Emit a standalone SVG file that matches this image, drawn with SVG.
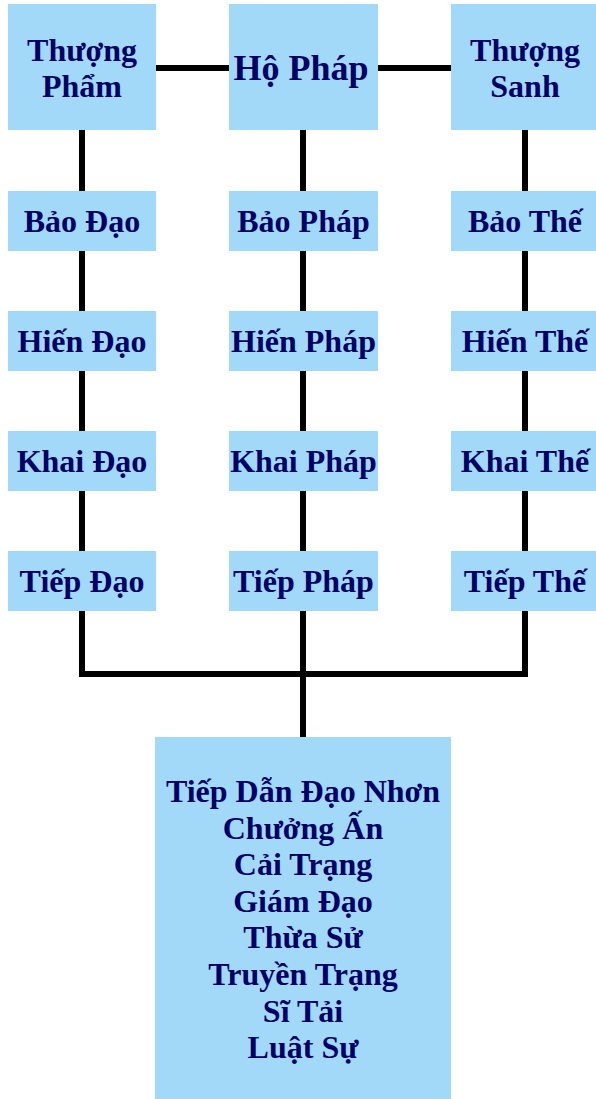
<svg xmlns="http://www.w3.org/2000/svg" width="596" height="1099" viewBox="0 0 596 1099">
<style>
.box{fill:#A2D9F9;}
.t{font-family:"Liberation Serif","Times New Roman",serif;font-weight:bold;font-size:32px;fill:#000066;text-anchor:middle;}
.big{font-size:36px;}
.c{fill:none;stroke:#000;stroke-width:6;stroke-linejoin:miter;stroke-linecap:butt;}
</style>
<rect width="596" height="1099" fill="#fff"/>
<g id="connectors">
<line class="c" x1="82" y1="68" x2="525" y2="68"/>
<polyline class="c" points="82,130 82,674 525,674 525,130"/>
<line class="c" x1="303" y1="130" x2="303" y2="737"/>
</g>
<g id="thuong-pham"><rect class="box" x="8" y="4" width="148" height="126"/><text class="t" x="82" y="61">Thượng</text><text class="t" x="82" y="97">Phẩm</text></g>
<g id="ho-phap"><rect class="box" x="229" y="4" width="149" height="126"/><text class="t big" x="301" y="80">Hộ Pháp</text></g>
<g id="thuong-sanh"><rect class="box" x="451" y="4" width="148" height="126"/><text class="t" x="525" y="61">Thượng</text><text class="t" x="525" y="97">Sanh</text></g>
<g id="bao-dao"><rect class="box" x="8" y="191" width="148" height="60"/><text class="t" x="82" y="232">Bảo Đạo</text></g>
<g id="bao-phap"><rect class="box" x="229" y="191" width="149" height="60"/><text class="t" x="303.5" y="232">Bảo Pháp</text></g>
<g id="bao-the"><rect class="box" x="451" y="191" width="148" height="60"/><text class="t" x="525" y="232">Bảo Thế</text></g>
<g id="hien-dao"><rect class="box" x="8" y="311" width="148" height="60"/><text class="t" x="82" y="352">Hiến Đạo</text></g>
<g id="hien-phap"><rect class="box" x="229" y="311" width="149" height="60"/><text class="t" x="303.5" y="352">Hiến Pháp</text></g>
<g id="hien-the"><rect class="box" x="451" y="311" width="148" height="60"/><text class="t" x="525" y="352">Hiến Thế</text></g>
<g id="khai-dao"><rect class="box" x="8" y="431" width="148" height="60"/><text class="t" x="82" y="472">Khai Đạo</text></g>
<g id="khai-phap"><rect class="box" x="229" y="431" width="149" height="60"/><text class="t" x="303.5" y="472">Khai Pháp</text></g>
<g id="khai-the"><rect class="box" x="451" y="431" width="148" height="60"/><text class="t" x="525" y="472">Khai Thế</text></g>
<g id="tiep-dao"><rect class="box" x="8" y="551" width="148" height="60"/><text class="t" x="82" y="592">Tiếp Đạo</text></g>
<g id="tiep-phap"><rect class="box" x="229" y="551" width="149" height="60"/><text class="t" x="303.5" y="592">Tiếp Pháp</text></g>
<g id="tiep-the"><rect class="box" x="451" y="551" width="148" height="60"/><text class="t" x="525" y="592">Tiếp Thế</text></g>
<g id="bottom"><rect class="box" x="155" y="737" width="296" height="362"/>
<text class="t" x="303" y="802">Tiếp Dẫn Đạo Nhơn</text>
<text class="t" x="303" y="839">Chưởng Ấn</text>
<text class="t" x="303" y="875">Cải Trạng</text>
<text class="t" x="303" y="912">Giám Đạo</text>
<text class="t" x="303" y="948">Thừa Sử</text>
<text class="t" x="303" y="985">Truyền Trạng</text>
<text class="t" x="303" y="1022">Sĩ Tải</text>
<text class="t" x="303" y="1058">Luật Sự</text>
</g>
</svg>
